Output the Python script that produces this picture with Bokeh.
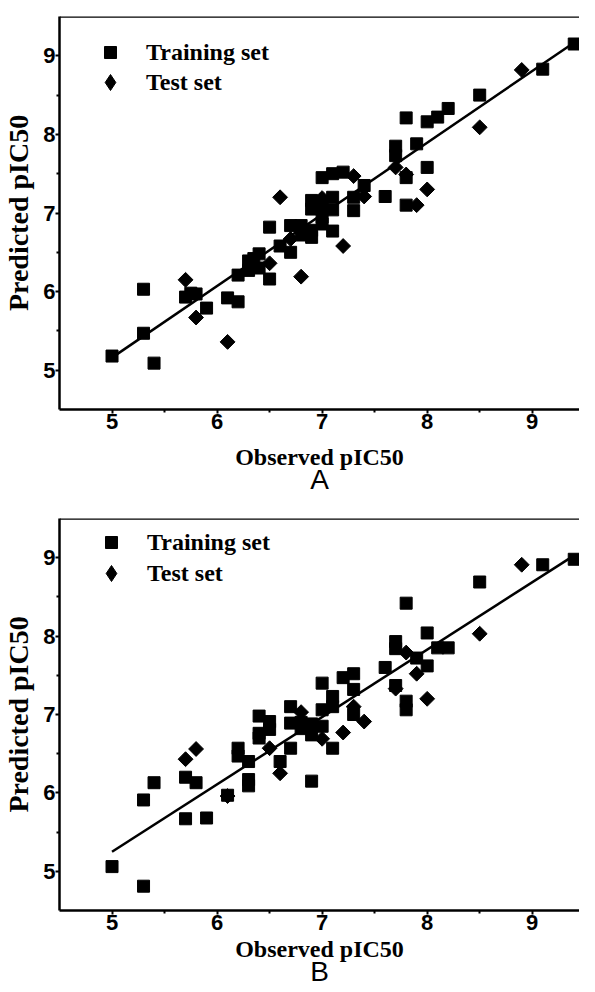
import math
from bokeh.plotting import figure
from bokeh.models import (Range1d, FixedTicker, Legend, LegendItem, Title, Span)
from bokeh.layouts import column
from bokeh.embed import file_html
from bokeh.resources import INLINE

# ---------------- data ----------------
x_ticks = [5, 6, 7, 8, 9]
x_minor = [5.5, 6.5, 7.5, 8.5]
y_ticks = [5, 6, 7, 8, 9]
y_minor = [5.5, 6.5, 7.5, 8.5]

# Panel A
a_train_x = [5.0, 5.3, 5.3, 5.4, 5.7, 5.75, 5.8, 5.9, 6.1, 6.2, 6.2, 6.3, 6.4, 6.3, 6.4, 6.35,
             6.5, 6.5, 6.6, 6.7, 6.7, 6.8, 6.8, 6.9, 6.9, 7.0, 7.0, 6.9, 6.9, 7.0, 7.1, 7.1,
             7.1, 7.0, 7.1, 7.2, 7.3, 7.3, 7.4, 7.6, 7.7, 7.7, 7.8, 7.8, 7.8, 7.9, 8.0, 8.0,
             8.1, 8.2, 8.5, 9.1, 9.4]
a_train_y = [5.18, 5.47, 6.03, 5.09, 5.93, 5.98, 5.97, 5.79, 5.92, 5.87, 6.21, 6.39, 6.48, 6.27, 6.30, 6.42,
             6.82, 6.16, 6.58, 6.50, 6.84, 6.84, 6.72, 6.69, 6.78, 6.86, 7.07, 7.16, 7.05, 6.95, 7.04, 7.20,
             6.77, 7.45, 7.50, 7.52, 7.03, 7.20, 7.35, 7.21, 7.85, 7.73, 7.45, 7.10, 8.21, 7.88, 8.16, 7.58,
             8.22, 8.33, 8.50, 8.83, 9.15]
a_test_x = [5.7, 5.8, 6.1, 6.5, 6.6, 6.7, 6.8, 7.0, 7.2, 7.3, 7.4, 7.7, 7.8, 7.9, 8.0, 8.5, 8.9]
a_test_y = [6.15, 5.67, 5.36, 6.36, 7.20, 6.67, 6.19, 7.19, 6.58, 7.47, 7.21, 7.58, 7.49, 7.10, 7.30, 8.09, 8.82]
a_fit_x = [5.0, 9.4]
a_fit_y = [5.16, 9.17]

# Panel B
b_train_x = [5.0, 5.3, 5.3, 5.4, 5.7, 5.8, 5.7, 5.9, 6.1, 6.2, 6.2, 6.3, 6.3, 6.3, 6.4, 6.4,
             6.4, 6.5, 6.5, 6.6, 6.7, 6.7, 6.7, 6.8, 6.8, 6.9, 6.9, 6.9, 7.0, 7.0, 7.0, 7.1,
             7.1, 7.1, 7.2, 7.3, 7.3, 7.3, 7.6, 7.7, 7.7, 7.7, 7.8, 7.8, 7.8, 7.9, 8.0, 8.0,
             8.1, 8.2, 8.5, 9.1, 9.4]
b_train_y = [5.06, 4.81, 5.91, 6.13, 6.20, 6.13, 5.67, 5.68, 5.97, 6.57, 6.47, 6.40, 6.17, 6.09, 6.98, 6.76,
             6.70, 6.91, 6.81, 6.40, 7.10, 6.89, 6.57, 6.90, 6.82, 6.15, 6.74, 6.88, 7.06, 6.85, 7.40, 6.57,
             7.10, 7.23, 7.47, 7.52, 7.32, 7.00, 7.60, 7.93, 7.84, 7.37, 8.42, 7.17, 7.06, 7.72, 8.04, 7.62,
             7.85, 7.85, 8.69, 8.91, 8.98]
b_test_x = [5.7, 5.8, 6.1, 6.5, 6.6, 6.8, 7.0, 7.2, 7.3, 7.4, 7.7, 7.8, 7.9, 8.0, 8.5, 8.9]
b_test_y = [6.43, 6.56, 5.96, 6.57, 6.25, 7.03, 6.69, 6.77, 7.10, 6.91, 7.33, 7.79, 7.52, 7.20, 8.03, 8.91]
b_fit_x = [5.0, 9.4]
b_fit_y = [5.25, 9.03]

x_label = "Observed pIC50"
y_label = "Predicted pIC50"
legend_labels = ["Training set", "Test set"]

X_START, X_END = 4.5, 9.45
Y_START, Y_END = 4.5, 9.5

SERIF = "Liberation Serif"
SANS = "Liberation Sans"
NAN = float("nan")


def make_legend(item, loc, gh):
    return Legend(items=[item], location=loc, margin=0, padding=0, spacing=0,
                  glyph_width=60, glyph_height=gh, label_height=gh, label_standoff=6,
                  label_text_font=SERIF, label_text_font_style="bold",
                  label_text_font_size="24px", label_text_color="black",
                  border_line_color=None, background_fill_alpha=0)


def panel(tx, ty, sx, sy, fx, fy, letter, height, top, bottom,
          xlabel_standoff, letter_standoff, leg1_loc, leg2_loc):
    p = figure(width=579, height=height, output_backend="svg", toolbar_location=None,
               x_range=Range1d(X_START, X_END), y_range=Range1d(Y_START, Y_END),
               min_border_left=52, min_border_right=0,
               min_border_top=top, min_border_bottom=bottom,
               background_fill_color="white", border_fill_color="white")
    p.outline_line_color = None
    p.xgrid.visible = False
    p.ygrid.visible = False

    for ax in (p.xaxis[0], p.yaxis[0]):
        ax.axis_line_width = 2.5
        ax.axis_line_color = "black"
        ax.major_tick_line_width = 2
        ax.minor_tick_line_width = 2
        ax.major_tick_in = 0
        ax.minor_tick_in = 0
        ax.major_tick_out = 4
        ax.minor_tick_out = 3
        ax.major_label_text_font = SANS
        ax.major_label_text_font_style = "bold"
        ax.major_label_text_font_size = "22px"
        ax.major_label_text_color = "black"
        ax.axis_label_text_font = SERIF
        ax.axis_label_text_font_style = "bold"
        ax.axis_label_text_color = "black"

    xa = p.xaxis[0]
    xa.ticker = FixedTicker(ticks=x_ticks, minor_ticks=x_minor)
    xa.major_label_standoff = 0
    xa.axis_label = x_label
    xa.axis_label_text_font_size = "24px"
    xa.axis_label_standoff = xlabel_standoff

    ya = p.yaxis[0]
    ya.ticker = FixedTicker(ticks=y_ticks, minor_ticks=y_minor)
    ya.major_label_standoff = 0
    ya.axis_label = y_label
    ya.axis_label_text_font_size = "28px"
    ya.axis_label_standoff = 6

    # top frame line
    p.add_layout(Span(location=Y_END, dimension="width", line_width=2.5, line_color="black"))

    p.line(fx, fy, line_width=2.5, color="black")
    r1 = p.scatter(tx, ty, marker="square", size=12, color="black")
    p.scatter(sx, sy, marker="square", angle=math.pi / 4, size=10.5, color="black")
    # legend-only glyph for the test set (diamond shape, not drawn in the plot)
    r2 = p.scatter(x=[NAN], y=[NAN], marker="diamond", color="black")

    p.add_layout(make_legend(LegendItem(label=legend_labels[0], renderers=[r1]), leg1_loc, 30))
    p.add_layout(make_legend(LegendItem(label=legend_labels[1], renderers=[r2]), leg2_loc, 40))

    p.add_layout(Title(text=letter, align="center", vertical_align="top",
                       text_font=SANS, text_font_style="normal", text_font_size="28px",
                       text_color="black", standoff=letter_standoff), "below")
    return p


pa = panel(a_train_x, a_train_y, a_test_x, a_test_y, a_fit_x, a_fit_y, "A",
           502, 16, 93, 12, -18, (21, 342), (21, 307))
pb = panel(b_train_x, b_train_y, b_test_x, b_test_y, b_fit_x, b_fit_y, "B",
           486, 16, 78, 3, -18, (22, 353), (22, 317))

layout = column(pa, pb, spacing=0)
open("out.html", "w").write(file_html(layout, INLINE))
